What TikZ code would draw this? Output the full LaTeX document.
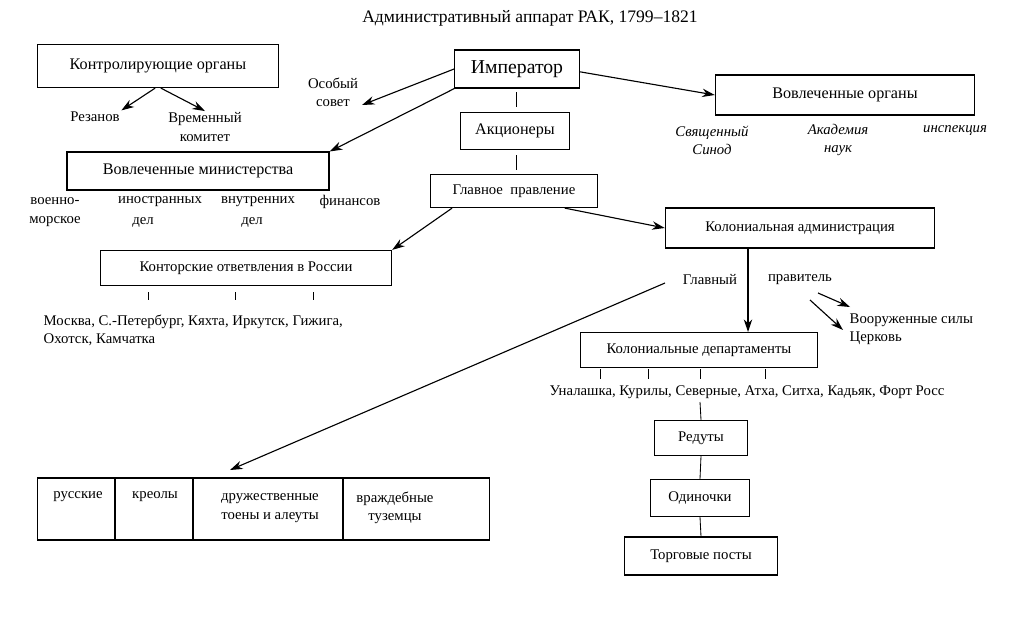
\documentclass[tikz,border=0pt]{standalone}
\usepackage{fontspec}
\setmainfont{Liberation Serif}
\usetikzlibrary{arrows.meta}
\begin{document}
\begin{tikzpicture}[x=0.025cm,y=-0.025cm,
 box/.style={draw,line width=0.9pt,inner sep=0pt,font=\fontsize{10.5}{12.5}\selectfont},
 t/.style={font=\fontsize{10.5}{13}\selectfont,align=center,inner sep=1pt},
 it/.style={font=\fontsize{10.5}{13}\selectfont\itshape,align=center,inner sep=1pt},
 ar/.style={line width=0.8pt,-{Stealth[length=9pt,width=6pt]}},
 ln/.style={line width=0.6pt}]
\useasboundingbox (0,0) rectangle (1013,618);
\node[font=\fontsize{12.5}{14}\selectfont] (title) at (530,18) {Административный аппарат РАК, 1799–1821};
\node[box,minimum width=171.6pt,minimum height=30.5pt,font=\fontsize{11.5}{13}\selectfont] (ko) at (158,66) {Контролирующие органы};
\node[t] (rez) at (95,117) {Резанов};
\node[t] (vk) at (205,127) {Временный\\комитет};
\draw[ar] ([xshift=-2]ko.south) -- (rez.north east);
\draw[ar] ([xshift=2]ko.south) -- (vk.north);
\node[t] (os) at (333,92) {Особый\\совет};
\node[box,minimum width=88.6pt,minimum height=26.9pt,font=\fontsize{14}{16}\selectfont] (imp) at (517,69) {Император};
\draw[ar] (imp.west) -- (362,105);
\node[box,minimum width=186.5pt,minimum height=26.9pt,font=\fontsize{11.5}{13}\selectfont] (vm) at (198,171) {Вовлеченные министерства};
\draw[ar] ([yshift=-14]imp.west) -- (vm.north east);
\node[box,minimum width=184.3pt,minimum height=28.4pt,font=\fontsize{11.5}{13}\selectfont] (vo) at (845,95) {Вовлеченные органы};
\draw[ar] ([yshift=-2]imp.east) -- (vo.west);
\node[it] (sin) at (712,140) {Священный\\Синод};
\node[it] (ak) at (838,140) {Академия\\наук};
\node[it] (ins) at (955,130) {инспекция};
\node[t] (m1) at (55,212) {военно-\\морское};
\node[t] (m2) at (160,202) {иностранных};
\node[t] (m2b) at (143,222) {дел};
\node[t] (m3) at (258,202) {внутренних};
\node[t] (m3b) at (252,222) {дел};
\node[t] (m4) at (350,202) {финансов};
\node[box,minimum width=78pt,minimum height=26.2pt,font=\fontsize{11.5}{13}\selectfont] (akc) at (515,131) {Акционеры};
\draw[ln] (516,92) -- (516,107);
\node[box,minimum width=119.1pt,minimum height=23.4pt] (gp) at (514,191) {Главное \ правление};
\draw[ln] (516,155) -- (516,170);
\node[box,minimum width=191.4pt,minimum height=28.4pt] (kad) at (800,228) {Колониальная администрация};
\node[box,minimum width=207pt,minimum height=24.8pt] (kon) at (246,268) {Конторские ответвления в России};
\draw[ar] ([xshift=-44]gp.south) -- (kon.north east);
\draw[ar] ([xshift=36]gp.south) -- (kad.west);
\foreach \x in {148,235,313} \draw[ln] (\x,292) -- (\x,300);
\node[t,anchor=west,align=left] (gor) at (42,330) {Москва, С.-Петербург, Кяхта, Иркутск, Гижига,\\Охотск, Камчатка};
\node[t] (gl) at (710,280) {Главный};
\node[t] (pr) at (800,280) {правитель};
\node[box,minimum width=168.7pt,minimum height=24.8pt] (kd) at (699,350) {Колониальные департаменты};
\draw[ar] (748,248) -- (748,332);
\node[t,anchor=west,align=left] (vs) at (848,329) {Вооруженные силы\\Церковь};
\draw[ar] (818,293) -- (850,307);
\draw[ar] (810,300) -- (843,330);
\foreach \x in {600,648,700,765} \draw[ln] (\x,369) -- (\x,379);
\node[t] (dep) at (747,392) {Уналашка, Курилы, Северные, Атха, Ситха, Кадьяк, Форт Росс};
\node[box,minimum width=65.9pt,minimum height=24.8pt] (red) at (701,438) {Редуты};
\draw[ln] (700,402) -- (red.north);
\node[box,minimum width=70.9pt,minimum height=26.2pt] (od) at (700,498) {Одиночки};
\draw[ln] (red.south) -- (od.north);
\node[box,minimum width=108.5pt,minimum height=26.9pt] (tp) at (701,556) {Торговые посты};
\draw[ln] (od.south) -- (tp.north);
\node[draw,line width=0.9pt,minimum width=321.2pt,minimum height=44pt,inner sep=0pt] (tab) at (263.5,509) {};
\foreach \x in {115,193,343} \draw[line width=0.9pt] (\x,478) -- (\x,540);
\node[t] (c1) at (78,497) {русские};
\node[t] (c2) at (155,497) {креолы};
\node[t] (c3) at (270,508) {дружественные\\тоены и алеуты};
\node[t] (c4) at (395,508) {враждебные\\туземцы};
\draw[ar] (665,283) -- (230,470);
\end{tikzpicture}
\end{document}
